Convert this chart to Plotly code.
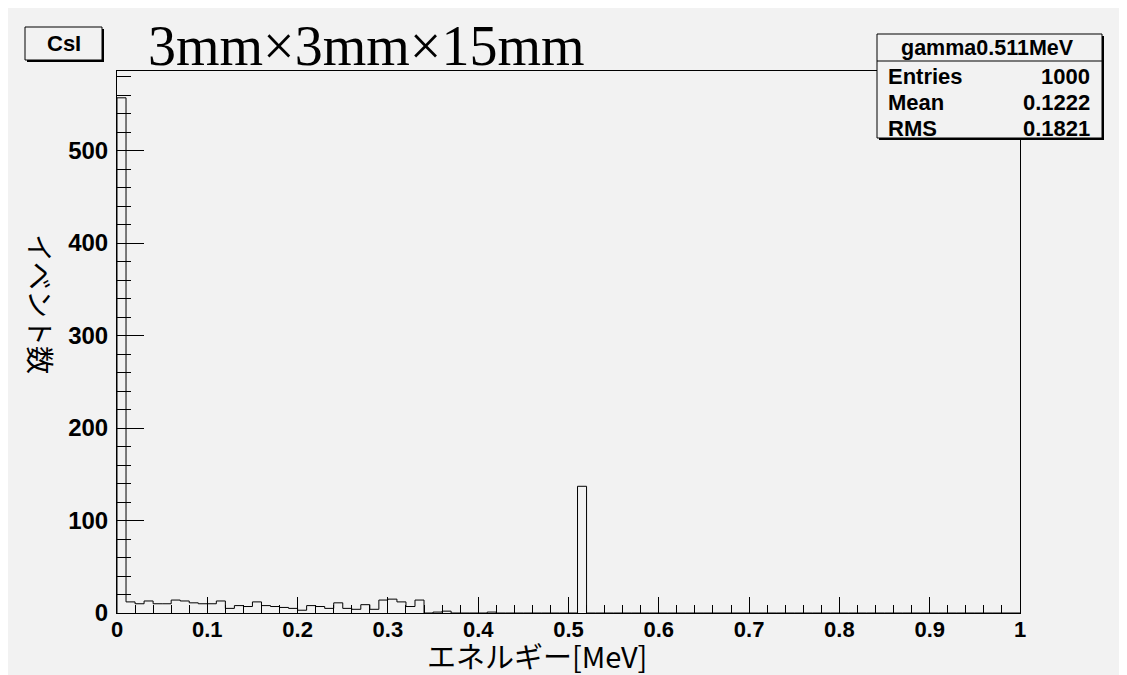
import plotly.graph_objects as go

# ---- data ----
bin_lo = 0.0
bin_width = 0.01
n_bins = 100
counts = [557, 12, 10, 13, 10, 10, 14, 13, 11, 10, 10,
          13, 5, 8, 7, 12, 8, 7, 6, 5, 3,
          8, 7, 5, 11, 5, 4, 9, 4, 14, 15,
          12, 7, 14, 0, 1, 2, 0, 0, 0, 0, 1] + [0] * 9 + [137] + [0] * 48
x_ticks = [0, 0.1, 0.2, 0.3, 0.4, 0.5, 0.6, 0.7, 0.8, 0.9, 1]
x_tick_text = ["0", "0.1", "0.2", "0.3", "0.4", "0.5", "0.6", "0.7", "0.8", "0.9", "1"]
y_ticks = [0, 100, 200, 300, 400, 500]
hist_name = "gamma0.511MeV"
stats = [("Entries", "1000"), ("Mean", "0.1222"), ("RMS", "0.1821")]
title_text = "3mm×3mm×15mm"
tag_text = "CsI"
x_title = "エネルギー[MeV]"
y_title = "イベント数"

# ---- layout geometry (page pixels; the page body has an 8px margin) ----
OFF = 8
WIN_W, WIN_H = 1127, 675
FW, FH = WIN_W - OFF, WIN_H - OFF
L, R, T, B = 117, 1020, 71, 613
PW, PH = R - L, B - T
BG = "#f2f2f2"

def px(xp):
    return (xp - L) / PW

def py(yp):
    return (B - yp) / PH

edges = [bin_lo + i * bin_width for i in range(n_bins + 1)]
xs = [edges[0]] + edges
ys = [0] + counts + [0]

fig = go.Figure()
fig.add_trace(go.Scatter(x=xs, y=ys, mode="lines", line=dict(color="black", width=1, shape="hv"),
                         hoverinfo="skip", showlegend=False))

shapes = []

def box(x0, y0, x1, y1, sh=3):
    shapes.append(dict(type="rect", xref="paper", yref="paper", x0=px(x0 + sh), x1=px(x1 + sh),
                       y0=py(y0 + sh), y1=py(y1 + sh), fillcolor="black", line=dict(width=0), layer="above"))
    shapes.append(dict(type="rect", xref="paper", yref="paper", x0=px(x0), x1=px(x1),
                       y0=py(y0), y1=py(y1), fillcolor=BG, line=dict(color="black", width=1), layer="above"))

# tag box
box(25, 27, 102, 60, 2)
# stats box
box(877, 34, 1102, 138, 2)
shapes.append(dict(type="line", xref="paper", yref="paper", x0=px(877), x1=px(1102), y0=py(61), y1=py(61),
                   line=dict(color="black", width=1), layer="above"))

ann = []
ann.append(dict(x=px(63.5), y=py(44), xref="paper", yref="paper", text="<b>%s</b>" % tag_text, showarrow=False,
                font=dict(family="Liberation Sans", size=22, color="black"), xanchor="center", yanchor="middle"))
ann.append(dict(x=px(146), y=py(46), xref="paper", yref="paper", text=title_text, showarrow=False,
                font=dict(family="Liberation Serif", size=56, color="black"), xanchor="left", yanchor="middle"))
ann.append(dict(x=px(987), y=py(48), xref="paper", yref="paper", text="<b>%s</b>" % hist_name, showarrow=False,
                font=dict(family="Liberation Sans", size=21.5, color="black"), xanchor="center", yanchor="middle"))
row_y = [76, 102, 128]
for (k, v), ry in zip(stats, row_y):
    ann.append(dict(x=px(886), y=py(ry), xref="paper", yref="paper", text="<b>%s</b>" % k, showarrow=False,
                    font=dict(family="Liberation Sans", size=22, color="black"), xanchor="left", yanchor="middle"))
    ann.append(dict(x=px(1092), y=py(ry), xref="paper", yref="paper", text="<b>%s</b>" % v, showarrow=False,
                    font=dict(family="Liberation Sans", size=22, color="black"), xanchor="right", yanchor="middle"))
ann.append(dict(x=px(537), y=py(655), xref="paper", yref="paper", text=x_title, showarrow=False,
                font=dict(family="Noto Sans CJK JP", size=29, color="black"), xanchor="center", yanchor="middle"))
ann.append(dict(x=px(41), y=py(304), xref="paper", yref="paper", text=y_title, showarrow=False, textangle=90,
                font=dict(family="Noto Sans CJK JP", size=28, color="black"), xanchor="center", yanchor="middle"))

fig.update_layout(
    width=FW, height=FH,
    margin=dict(l=L - OFF, r=FW - (R - OFF), t=T - OFF, b=FH - (B - OFF), pad=0),
    paper_bgcolor=BG, plot_bgcolor=BG,
    shapes=shapes, annotations=ann,
    showlegend=False,
)
fig.update_xaxes(range=[0, 1], tickvals=x_ticks, ticktext=x_tick_text, ticks="inside", ticklen=16,
                 tickcolor="black", tickwidth=1, ticklabelstandoff=-3,
                 minor=dict(dtick=0.02, tick0=0, ticks="inside", ticklen=8, tickcolor="black", tickwidth=1),
                 showline=True, linecolor="black", linewidth=1, mirror=True, showgrid=False, zeroline=False,
                 tickfont=dict(family="Liberation Sans", size=22, color="black", weight="bold"))
fig.update_yaxes(range=[0, 586], tickvals=y_ticks, ticks="inside", ticklen=27,
                 tickcolor="black", tickwidth=1, ticklabelstandoff=3,
                 minor=dict(dtick=20, tick0=0, ticks="inside", ticklen=14, tickcolor="black", tickwidth=1),
                 showline=True, linecolor="black", linewidth=1, mirror=True, showgrid=False, zeroline=False,
                 tickfont=dict(family="Liberation Sans", size=24, color="black", weight="bold"))

fig.write_html("out.html")
